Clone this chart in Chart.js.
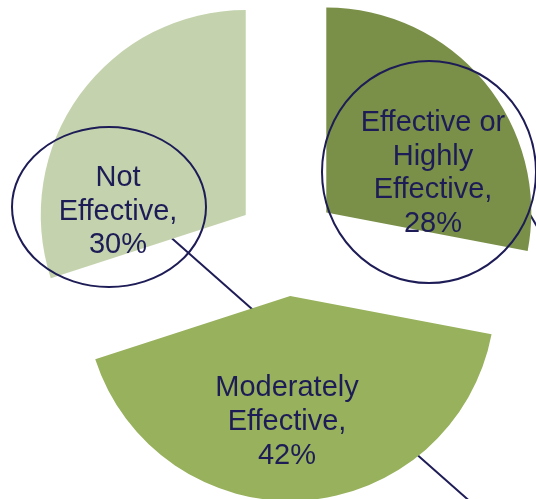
<!DOCTYPE html>
<html>
<head>
<meta charset="utf-8">
<title>Effectiveness rating</title>
<script src="https://cdn.jsdelivr.net/npm/chart.js@4"></script>
<style>
  html, body { margin: 0; padding: 0; background: #fff; }
  #wrap { width: 536px; height: 499px; position: relative; }
</style>
</head>
<body>
<div id="wrap"><canvas id="pie"></canvas></div>
<script>
/* ── Data ── */
const categories = [
  ['Effective or', 'Highly', 'Effective'],
  ['Moderately', 'Effective'],
  ['Not', 'Effective'],
];
const shares = [28, 42, 30];
const sliceColors = ['#7a9049', '#97b15c', '#c4d3ae'];

/* ── Styling ── */
const INK = '#1e1c56';
const RADIUS = 205;
const EXPLODE = 204;           // arc offset (Chart.js translates by offset / 4)

// label blocks: centre x, first baseline, line step
const labelLayout = [
  { x: 433, y: 131, step: 33.7 },
  { x: 287, y: 396, step: 34 },
  { x: 118, y: 186, step: 33.5 },
];
// call-out rings around the labels
const rings = [
  { x: 429, y: 172, rx: 107, ry: 111 },
  { x: 109, y: 207, rx: 97, ry: 80 },
];
// connector strokes, drawn underneath the slices
const connectors = [
  [150, 219, 482, 512],
  [505, 172, 545, 240],
];

/* ── Keep every exploded slice at the same radius and full sweep ──
   ArcElement grows wide slices by offset * (1 - sin(circumference))
   and trims the sweep by that amount / PI; undo both. */
const equalRadius = {
  id: 'equalRadius',
  beforeDatasetsDraw(chart) {
    const meta = chart.getDatasetMeta(0);
    meta.data.forEach(arc => {
      const off = (arc.options.offset || 0) / 4;
      const fix = 1 - Math.sin(Math.min(Math.PI, arc.circumference || 0));
      const grow = off * fix;
      arc.outerRadius = RADIUS - grow;
      const trim = grow / Math.PI / RADIUS / 2;
      arc.startAngle -= trim;
      arc.endAngle += trim;
    });
  },
};

/* ── Connectors under the pie ── */
const connectorLines = {
  id: 'connectorLines',
  beforeDatasetsDraw(chart) {
    const ctx = chart.ctx;
    ctx.save();
    ctx.strokeStyle = INK;
    ctx.lineWidth = 2;
    connectors.forEach(([x1, y1, x2, y2]) => {
      ctx.beginPath();
      ctx.moveTo(x1, y1);
      ctx.lineTo(x2, y2);
      ctx.stroke();
    });
    ctx.restore();
  },
};

/* ── Labels and rings on top ── */
const sliceLabels = {
  id: 'sliceLabels',
  afterDatasetsDraw(chart) {
    const ctx = chart.ctx;
    ctx.save();
    ctx.fillStyle = INK;
    ctx.font = '29px "Liberation Sans", Arial, sans-serif';
    ctx.textAlign = 'center';
    ctx.textBaseline = 'alphabetic';
    categories.forEach((lines, i) => {
      const pos = labelLayout[i];
      const text = lines.slice();
      text[text.length - 1] += ',';
      text.push(shares[i] + '%');
      text.forEach((t, j) => ctx.fillText(t, pos.x, pos.y + j * pos.step));
    });

    ctx.strokeStyle = INK;
    ctx.lineWidth = 2;
    rings.forEach(r => {
      ctx.beginPath();
      ctx.ellipse(r.x, r.y, r.rx, r.ry, 0, 0, Math.PI * 2);
      ctx.stroke();
    });
    ctx.restore();
  },
};

new Chart(document.getElementById('pie'), {
  type: 'pie',
  data: {
    labels: categories.map(l => l.join(' ')),
    datasets: [{
      data: shares,
      backgroundColor: sliceColors,
      borderWidth: 0,
      offset: EXPLODE,
      hoverOffset: EXPLODE,
    }],
  },
  options: {
    responsive: true, maintainAspectRatio: false,
    animation: false,
    radius: RADIUS,
    events: [],
    layout: { padding: { left: 38, right: 0, top: 0, bottom: 9 } },
    plugins: {
      legend: { display: false },
      tooltip: { enabled: false },
    },
  },
  plugins: [equalRadius, connectorLines, sliceLabels],
});
</script>
</body>
</html>
